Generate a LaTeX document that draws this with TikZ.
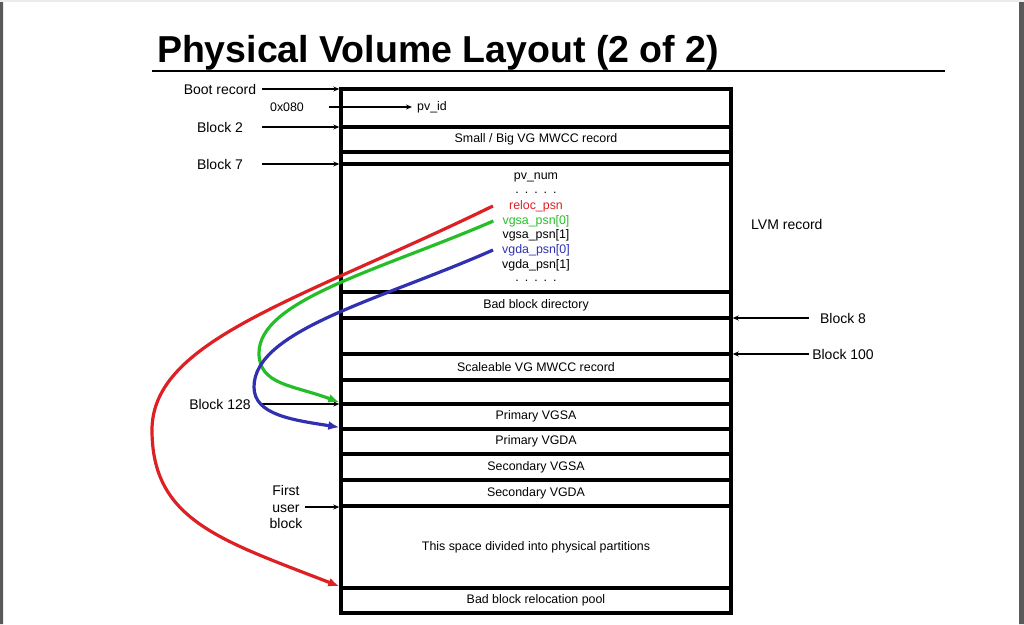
\documentclass[tikz,border=0pt]{standalone}
\usepackage{fontspec}
\setmainfont{Liberation Sans}
\usetikzlibrary{arrows.meta}
\definecolor{lvmred}{RGB}{220,32,36}
\definecolor{lvmgreen}{RGB}{38,190,40}
\definecolor{lvmblue}{RGB}{48,48,176}
\begin{document}
\begin{tikzpicture}[x=1pt,y=-1pt,
	row/.style={draw,line width=3.4pt,minimum width=390pt,inner sep=0pt,font=\fontsize{12.4}{14}\selectfont},
	fld/.style={inner sep=0pt,font=\fontsize{12.4}{14}\selectfont},
	lbl/.style={inner sep=2pt,minimum width=84pt,align=center,font=\fontsize{14}{16.5}\selectfont},
	ptr/.style={line width=1.6pt,-{Stealth[length=6pt,width=5pt]}},
	sweep/.style={line width=3.2pt,-{Latex[length=11pt,width=9pt]}}]
	\useasboundingbox (0,0) rectangle (1024,624);
	\fill[black!65] (0,0) rectangle (3,624) (1019,0) rectangle (1024,624);
	\fill[black!8] (0,0) rectangle (1024,2);
	\node[anchor=base,font=\bfseries\fontsize{37.5}{44}\selectfont] (title) at (438,62) {Physical Volume Layout (2 of 2)};
	\draw[line width=2.8pt] (152,71) -- (945,71);
	% the blocks of the physical volume
	\foreach \n/\t/\b/\s in {boot/89/127/{},mwcc/127/152/{Small / Big VG MWCC record},gap/152/164/{},
		lvm/164/292/{},bbdir/292/318/{Bad block directory},free/318/354/{},svg/354/380/{Scaleable VG MWCC record},
		spare/380/404/{},pvgsa/404/429/{Primary VGSA},pvgda/429/454/{Primary VGDA},svgsa/454/480/{Secondary VGSA},
		svgda/480/506/{Secondary VGDA},space/506/588/{This space divided into physical partitions},pool/588/613/{Bad block relocation pool}}
	\node[row,minimum height={(\b-\t)*1pt}] (\n) at (536,{(\t+\b)/2}) {\s};
	\def\dotrow{.\hspace{6pt}.\hspace{6pt}.\hspace{6pt}.\hspace{6pt}.}
	\foreach \n/\y/\c/\s in {pvnum/177/black/pv\_num,dotsa/193/black/\dotrow,reloc/206/lvmred/reloc\_psn,
		vgsa0/221/lvmgreen/vgsa\_psn[0],vgsa1/235/black/vgsa\_psn[1],vgda0/250/lvmblue/vgda\_psn[0],
		vgda1/265/black/vgda\_psn[1],dotsb/281/black/\dotrow}
	\node[fld,text=\c] (\n) at (536,\y) {\s};
	\node[fld,anchor=west,inner sep=5pt] (pvid) at (412,107) {pv\_id};
	\node[lbl,font=\fontsize{12.4}{14}\selectfont] (hex) at (287,107) {0x080};
	\node[lbl,anchor=west,minimum width=0pt] (lvmrec) at (749,224) {LVM record};
	% block labels
	\node[lbl] (lboot) at (220,89) {Boot record};
	\node[lbl] (lb2) at (220,127) {Block 2};
	\node[lbl] (lb7) at (220,164) {Block 7};
	\node[lbl] (lb128) at (220,404) {Block 128};
	\node[lbl,minimum width=0pt] (lfirst) at (286,507) {First\\user\\block};
	\node[lbl,minimum width=68pt] (lb8) at (843,318) {Block 8};
	\node[lbl,minimum width=68pt] (lb100) at (843,354) {Block 100};
	\draw[ptr] (hex.east) -- (pvid.west);
	\foreach \l/\r in {lboot/boot,lb2/mwcc,lb7/lvm,lb128/pvgsa,lfirst/space}
	\draw[ptr] (\l.east) -- (\l.east -| \r.west);
	\foreach \l/\r in {lb8/bbdir,lb100/svg}
	\draw[ptr] (\l.west) -- (\l.west -| \r.east);
	% pointers to the blocks
	\draw[sweep,lvmred] ([xshift=-16]reloc.west) .. controls (300,300) and (152,340) .. (152,430)
	.. controls (152,520) and (220,540) .. (pool.north west);
	\draw[sweep,lvmgreen] ([xshift=-9]vgsa0.west) .. controls (380,270) and (259,300) .. (259,353)
	.. controls (259,385) and (293,385) .. (pvgsa.north west);
	\draw[sweep,lvmblue] ([xshift=-9]vgda0.west) .. controls (380,300) and (254,330) .. (254,387)
	.. controls (254,415) and (293,420) .. (pvgda.north west);
\end{tikzpicture}
\end{document}
